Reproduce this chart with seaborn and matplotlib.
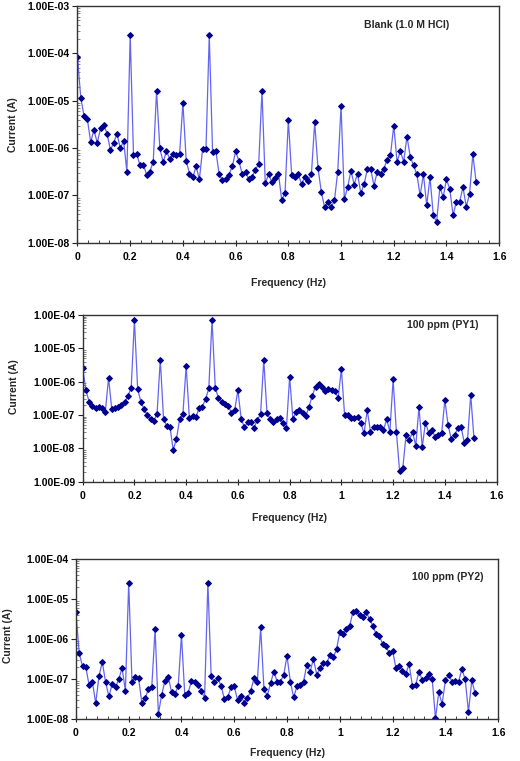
import numpy as np
import matplotlib
matplotlib.use("Agg")
import matplotlib.pyplot as plt
import seaborn as sns
from matplotlib.ticker import FuncFormatter, LogLocator, MultipleLocator, NullFormatter

# Frequency grid (Hz), 0 ... 1.5125 in steps of 0.0125
freq = np.arange(122) * 0.0125

# Blank (1.0 M HCl)
blank = [
    8.5e-5, 1.15e-5, 4.8e-6, 4.1e-6, 1.35e-6, 2.4e-6, 1.3e-6, 2.6e-6, 3.1e-6, 2.0e-6,
    9.1e-7, 1.3e-6, 2.0e-6, 1.0e-6, 1.4e-6, 3.2e-7, 2.45e-4, 7.1e-7, 7.4e-7, 4.3e-7,
    4.5e-7, 2.7e-7, 3.2e-7, 5.2e-7, 1.6e-5, 1.0e-6, 5.0e-7, 8.7e-7, 5.9e-7, 7.4e-7,
    7.1e-7, 7.6e-7, 9.1e-6, 5.4e-7, 2.9e-7, 2.4e-7, 4.1e-7, 2.2e-7, 9.8e-7, 9.5e-7,
    2.45e-4, 8.3e-7, 8.7e-7, 2.8e-7, 2.1e-7, 2.2e-7, 2.75e-7, 4.1e-7, 8.5e-7, 5.4e-7,
    2.8e-7, 3.1e-7, 2.2e-7, 2.45e-7, 3.5e-7, 4.6e-7, 1.6e-5, 1.8e-7, 2.8e-7, 1.9e-7,
    2.3e-7, 2.9e-7, 7.9e-8, 1.15e-7, 3.9e-6, 2.75e-7, 2.4e-7, 2.8e-7, 1.75e-7, 2.4e-7,
    2.0e-7, 2.8e-7, 3.5e-6, 3.8e-7, 1.2e-7, 5.6e-8, 7.2e-8, 5.6e-8, 7.9e-8, 3.2e-7,
    7.8e-6, 8.3e-8, 1.5e-7, 3.3e-7, 1.7e-7, 2.9e-7, 1.1e-7, 1.75e-7, 3.6e-7, 3.6e-7,
    1.6e-7, 3.2e-7, 2.9e-7, 3.7e-7, 5.6e-7, 7.1e-7, 3.0e-6, 5.1e-7, 8.7e-7, 5.1e-7,
    1.75e-6, 6.6e-7, 4.3e-7, 2.8e-7, 1.0e-7, 2.8e-7, 6.2e-8, 2.4e-7, 3.8e-8, 2.75e-8,
    1.5e-7, 9.1e-8, 2.2e-7, 1.35e-7, 3.8e-8, 7.4e-8, 7.4e-8, 1.5e-7, 5.8e-8, 1.07e-7,
    7.4e-7, 1.9e-7,
]

# 100 ppm (PY1)
py1 = [
    2.5e-6, 5.6e-7, 2.5e-7, 1.9e-7, 1.65e-7, 1.75e-7, 1.65e-7, 1.25e-7, 1.3e-6, 1.5e-7,
    1.6e-7, 1.8e-7, 2.0e-7, 2.4e-7, 3.8e-7, 6.5e-7, 7.1e-5, 6.0e-7, 2.5e-7, 1.5e-7,
    9.8e-8, 7.6e-8, 6.8e-8, 1.1e-7, 4.6e-6, 7.8e-8, 4.6e-8, 4.4e-8, 8.9e-9, 1.95e-8,
    7.6e-8, 1.1e-7, 2.95e-6, 8.1e-8, 9.3e-8, 8.5e-8, 1.65e-7, 1.8e-7, 3.0e-7, 6.3e-7,
    7.1e-5, 6.6e-7, 3.2e-7, 2.4e-7, 2.1e-7, 1.9e-7, 1.17e-7, 1.4e-7, 5.6e-7, 7.8e-8,
    4.3e-8, 6.0e-8, 6.0e-8, 4.2e-8, 7.1e-8, 1.05e-7, 4.5e-6, 1.12e-7, 7.6e-8, 6.0e-8,
    7.8e-8, 8.1e-8, 5.6e-8, 4.0e-8, 1.4e-6, 7.8e-8, 1.2e-7, 1.4e-7, 1.12e-7, 9.3e-8,
    1.8e-7, 3.8e-7, 7.1e-7, 8.5e-7, 6.8e-7, 5.4e-7, 6.0e-7, 5.6e-7, 5.2e-7, 3.3e-7,
    2.4e-6, 9.8e-8, 9.8e-8, 8.3e-8, 8.3e-8, 8.5e-8, 5.9e-8, 2.8e-8, 1.4e-7, 3.2e-8,
    4.4e-8, 4.4e-8, 4.4e-8, 3.5e-8, 7.4e-8, 3.2e-8, 1.17e-6, 3.2e-8, 2.1e-9, 2.6e-9,
    2.5e-8, 1.8e-8, 3.1e-8, 1.2e-8, 1.7e-7, 1.1e-8, 5.9e-8, 2.95e-8, 3.6e-8, 2.2e-8,
    2.6e-8, 2.8e-8, 2.8e-7, 5.0e-8, 1.9e-8, 2.5e-8, 4.0e-8, 4.4e-8, 1.5e-8, 1.8e-8,
    4.0e-7, 2.0e-8,
]

# 100 ppm (PY2)
py2 = [
    4.7e-6, 4.5e-7, 2.1e-7, 2.0e-7, 7.1e-8, 8.5e-8, 2.5e-8, 1.2e-7, 2.7e-7, 8.3e-8,
    3.7e-8, 7.6e-8, 6.3e-8, 1.0e-7, 1.9e-7, 5.1e-8, 2.6e-5, 8.3e-8, 1.12e-7, 1.05e-7,
    2.5e-8, 3.3e-8, 5.8e-8, 6.5e-8, 1.8e-6, 1.35e-8, 4.1e-8, 9.1e-8, 1.15e-7, 4.7e-8,
    4.3e-8, 6.6e-8, 1.26e-6, 4.0e-8, 4.5e-8, 8.9e-8, 8.3e-8, 7.2e-8, 5.2e-8, 3.3e-8,
    2.6e-5, 1.2e-7, 8.3e-8, 1.05e-7, 6.9e-8, 3.2e-8, 3.5e-8, 6.2e-8, 6.6e-8, 3.0e-8,
    3.8e-8, 2.6e-8, 3.3e-8, 5.2e-8, 1.05e-7, 8.7e-8, 2.0e-6, 5.8e-8, 3.8e-8, 7.9e-8,
    1.55e-7, 8.7e-8, 8.7e-8, 1.3e-7, 3.8e-7, 8.7e-8, 3.5e-8, 6.6e-8, 7.2e-8, 8.7e-8,
    2.3e-7, 1.55e-7, 3.2e-7, 1.3e-7, 1.9e-7, 2.6e-7, 2.5e-7, 4.0e-7, 3.5e-7, 5.6e-7,
    1.5e-6, 1.35e-6, 1.8e-6, 2.2e-6, 4.9e-6, 5.2e-6, 4.1e-6, 3.7e-6, 4.7e-6, 3.2e-6,
    2.2e-6, 1.35e-6, 1.2e-6, 7.6e-7, 6.6e-7, 4.5e-7, 5.2e-7, 1.9e-7, 2.1e-7, 1.65e-7,
    1.35e-7, 2.4e-7, 6.8e-8, 7.2e-8, 1.55e-7, 9.5e-8, 1.1e-7, 1.35e-7, 1.0e-7, 1.05e-8,
    4.7e-8, 2.4e-8, 9.3e-8, 1.3e-7, 8.7e-8, 9.1e-8, 8.7e-8, 1.8e-7, 1.0e-7, 1.5e-8,
    9.3e-8, 4.5e-8,
]

titles = ["Blank (1.0 M HCl)", "100 ppm (PY1)", "100 ppm (PY2)"]
series = [blank, py1, py2]
ylims = [(1e-8, 1e-3), (1e-9, 1e-4), (1e-8, 1e-4)]

sns.set_style("ticks")
plt.rcParams['font.family'] = ['Liberation Sans', 'DejaVu Sans']
plt.rcParams['font.weight'] = 'bold'

fig = plt.figure(figsize=(5.2, 7.61), dpi=100)

# axes boxes in figure fraction: left, bottom, width, height
boxes = [
    [0.149, 0.681, 0.811, 0.311],
    [0.159, 0.367, 0.796, 0.219],
    [0.146, 0.055, 0.812, 0.210],
]
title_pos = [(0.78, 0.92), (0.87, 0.94), (0.88, 0.89)]
ylab_pos = [(-0.142, 0.5), (-0.154, 0.57), (-0.150, 0.52)]
xlab_y = [-0.149, -0.188, -0.179]

line_color = "#6464F2"
mark_color = "#000090"

for k in range(3):
    ax = fig.add_axes(boxes[k])
    sns.lineplot(x=freq, y=series[k], ax=ax, color=line_color, linewidth=0.9,
                 marker="D", markersize=3.0, markerfacecolor=mark_color,
                 markeredgecolor=mark_color, estimator=None, sort=False)
    ax.set_yscale("log")
    ax.set_ylim(*ylims[k])
    ax.set_xlim(0, 1.6)

    ax.xaxis.set_major_locator(MultipleLocator(0.2))
    ax.xaxis.set_minor_locator(MultipleLocator(0.04))
    ax.xaxis.set_major_formatter(FuncFormatter(lambda v, p: f"{v:g}"))
    ax.yaxis.set_major_locator(LogLocator(base=10, numticks=20))
    ax.yaxis.set_minor_locator(LogLocator(base=10, subs=np.arange(2, 10), numticks=20))
    ax.yaxis.set_minor_formatter(NullFormatter())
    ax.yaxis.set_major_formatter(FuncFormatter(lambda v, p: f"{v:.2E}"))

    ax.tick_params(axis="x", which="major", direction="inout", length=5, width=0.8,
                   pad=4, labelsize=7.5, colors="#222222")
    ax.tick_params(axis="x", which="minor", direction="in", length=2.5, width=0.6,
                   colors="#222222")
    ax.tick_params(axis="y", which="major", direction="out", length=3.5, width=0.8,
                   pad=2, labelsize=7.5, colors="#222222")
    ax.tick_params(axis="y", which="minor", direction="in", length=2, width=0.5,
                   colors="#555555")
    for lab in ax.get_xticklabels() + ax.get_yticklabels():
        lab.set_fontweight("bold")
        lab.set_color("black")

    for sp in ax.spines.values():
        sp.set_visible(True)
        sp.set_color("#333333")
        sp.set_linewidth(1.0)

    ax.set_xlabel("Frequency (Hz)", fontsize=7.5, fontweight="bold")
    ax.set_ylabel("Current (A)", fontsize=7.5, fontweight="bold")
    ax.xaxis.set_label_coords(0.5, xlab_y[k])
    ax.yaxis.set_label_coords(*ylab_pos[k])
    ax.text(title_pos[k][0], title_pos[k][1], titles[k], transform=ax.transAxes,
            ha="center", va="center", fontsize=7.5, fontweight="bold")

fig.savefig("out.png", dpi=100)
plt.close(fig)
